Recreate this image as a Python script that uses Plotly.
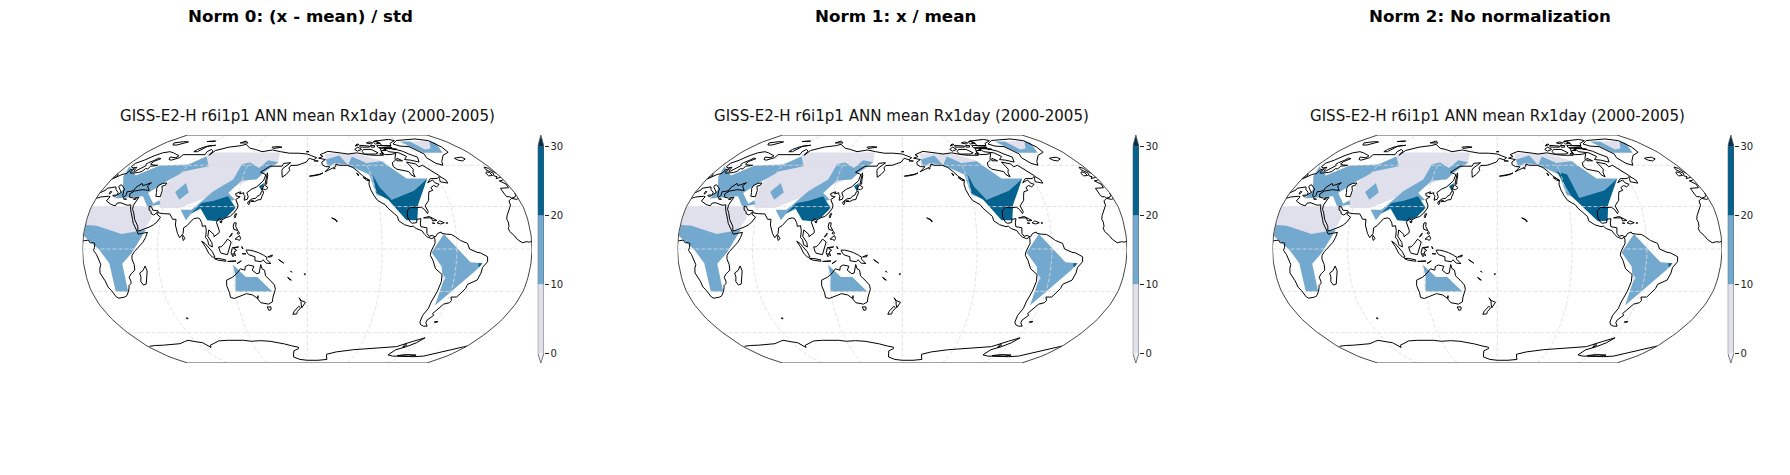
import numpy as np
import plotly.graph_objects as go

panel_titles = ['Norm 0: (x - mean) / std', 'Norm 1: x / mean', 'Norm 2: No normalization']
map_title = 'GISS-E2-H r6i1p1 ANN mean Rx1day (2000-2005)'
cbar_levels = [0, 10, 20, 30]
cbar_extend = [-1.45, 31.7]
lat_grid = [-60, -30, 0, 30, 60]
lon_grid = [60, 120, 180, 240, 300]

# robinson table
rob_lat = [0, 5, 10, 15, 20, 25, 30, 35, 40, 45, 50, 55, 60, 65, 70, 75, 80, 85, 90]
rob_x = [1, .9986, .9954, .99, .9822, .973, .96, .9427, .9216, .8962, .8679, .835, .7986, .7597, .7186, .6732, .6213, .5722, .5322]
rob_y = [0, .062, .124, .186, .248, .31, .372, .434, .4958, .5571, .6176, .6769, .7346, .7903, .8435, .8936, .9394, .9761, 1]

# shaded regions, (lon 0-360, lat)
light_areas = [
    [(0.2, 30), (50, 30), (52.5, 22), (48.5, 14), (30, 9), (0.2, 15)],
    [(53, 46.8), (60, 60.6), (71.3, 67), (69, 70.4), (149.4, 70.4), (150.4, 61.8), (125, 48), (74, 29), (57.6, 29), (54.6, 34.4)],
    [(199.6, 69.5), (232.8, 69.5), (245.5, 66.6), (262, 62.3), (222.5, 59.2), (199, 59.2)],
    [(313.7, 80.6), (340, 81), (324, 73.7), (316.6, 73)],
    [(289.6, -17.5), (293, -20.5), (291.5, -22.9)],
]
mid_areas = [
    [(0.5, 17), (9.2, 16.5), (30.5, 10.6), (49.6, 13.7), (39.3, -2.8), (31.1, -10.4), (30.5, -30.2), (20.2, -30.2), (20.7, -10), (13.4, -0.5), (0.2, 9.4)],
    [(8.2, 51.6), (3, 59.2), (19, 52.3), (32.4, 59.8), (60, 60.6), (71.3, 67), (82, 59.2), (62, 55.4), (52, 48), (42, 39.6),
     (50.6, 32), (54.6, 34.4), (57, 31.4), (49, 30), (46.5, 30), (39, 37.3), (16, 35.8), (18, 42)],
    [(150.2, 62.4), (139.3, 64), (135.6, 60.6), (132.4, 58), (121, 62.4), (114, 60.6), (112, 49.3), (98, 40.8), (90.6, 33.8), (84, 27.8),
     (75, 27.8), (81, 20.3), (84.7, 25.5), (93.6, 29), (118.6, 34.9), (111.5, 39.6), (120, 48.7), (133.4, 49.3), (138, 54)],
    [(65, 40.3), (70.3, 46.8), (77, 40), (71.3, 34.9)],
    [(120, -11), (130, -19.8), (139.3, -19.8), (151, -30.2), (120, -30.2), (121.6, -19.3)],
    [(290, 10.6), (311.3, -9.4), (321, -10), (317, -14.6), (291, -40), (291.5, -22.9), (293, -20.5), (289.6, -17.5), (288.4, -12.3), (279.6, -2.4)],
    [(199.6, 64.5), (214.8, 67.8), (220.7, 60.6), (208, 61.8), (200.8, 58.7)],
    [(221, 60), (227.9, 67), (240.5, 61.8), (256.9, 63.2), (271.7, 50), (290.7, 50), (273.6, 41.5), (251.6, 34.9), (239.7, 38.4), (238.5, 53)],
    [(300.7, 80.6), (313.7, 80.6), (316.6, 73), (324, 73.7), (340, 81), (343, 79), (330.9, 70), (309.3, 70), (304.5, 74)],
]
dark_areas = [
    [(84, 24.8), (91, 32.6), (101, 34.2), (112, 37.3), (120.5, 29), (114, 22.7), (107, 19.6), (98.4, 20.3), (91, 29)],
    [(137, 44.4), (141, 46.8), (140.4, 40.8)],
    [(317.5, -10), (321, -10), (318.6, -13)],
]
# the N America maximum reaches further north in the last panel
dark_namerica = [
    [(241.7, 53), (244, 44), (251.6, 34.9), (273.6, 41.5), (290.7, 50), (273, 31.4), (269.8, 20.3), (261, 20.3), (248.8, 34.9), (240, 39.6)],
    [(241.7, 53), (244, 44), (251.6, 34.9), (273.6, 41.5), (290.7, 50), (273, 31.4), (269.8, 20.3), (261, 20.3), (248.8, 34.9), (240, 39.6)],
    [(237, 55.4), (246, 53), (250, 36), (273.6, 41.5), (290.7, 50), (273, 31.4), (270, 20), (262, 19.6), (243.8, 37.3), (239, 49.3)],
]

# coastlines (lon, lat), read by eye
africa = [(-5.9, 35.8), (-9.3, 34), (-9.8, 31), (-13, 27.5), (-16, 23.5), (-17, 21), (-16.3, 19), (-16.5, 16), (-17.5, 14.7), (-16.7, 12.4), (-15, 11), (-13.5, 9.5),
          (-11.4, 6.9), (-7.6, 4.4), (-4, 5.2), (-2, 4.8), (1, 5.9), (4.3, 6.3), (6, 4.3), (8.5, 4.5), (9.7, 3.9), (9.5, 1), (8.8, -1), (11, -3.9), (12, -6), (13.4, -9),
          (13.7, -11), (12.5, -13.5), (11.8, -17), (14.4, -22.5), (15.2, -27), (17, -29.5), (18.4, -33.9), (20, -34.8), (25.6, -34), (28, -32.9), (31, -29.8), (32.6, -27),
          (32.8, -26), (35, -24.5), (35.5, -23), (34.8, -20), (37, -17.5), (40.5, -15), (40.6, -11), (39.2, -7), (39.5, -4.5), (41.5, -1.8), (45, 1.9), (48, 4.5), (50, 8),
          (51.2, 11.8), (48, 11.2), (44, 10.5), (43, 12), (41, 15), (38.5, 18.2), (37.3, 21), (35.6, 23.9), (34, 27), (32.7, 29.8), (32.3, 31.2), (29, 31), (25, 32),
          (23, 32.7), (20, 32.5), (19.5, 30.5), (15.5, 31.5), (11, 33.3), (10, 34), (11, 37), (9.5, 37.3), (3, 36.8), (-2, 35.1), (-5.9, 35.8)]
eurasia = [(-9, 37), (-9.5, 38.8), (-9.3, 43), (-1.8, 43.4), (-1.2, 46), (-4.6, 48.4), (-1.5, 48.7), (1.5, 50.2), (3.5, 51.4), (5, 53), (8.5, 53.8), (8.2, 56.5), (10.5, 57.5),
           (10.5, 54.5), (12, 54), (14, 54), (18.7, 54.5), (21, 55.3), (21.5, 57.5), (24, 57.2), (24, 59.3), (28, 59.6), (30, 60), (25, 60.2), (21.3, 61), (21.5, 63), (25.4, 65.2),
           (22.3, 65.7), (21, 64), (17.5, 62), (17, 60.7), (18.8, 59.8), (16.5, 57), (14.5, 55.5), (13, 55.4), (11.5, 58.5), (8.5, 58), (5.5, 58.8), (5, 61.5), (10, 64), (14, 67.5),
           (19, 70), (25, 71), (31, 70), (41, 67.5), (40, 66), (33, 66.5), (35, 64.5), (38, 64), (44, 66), (44, 68.5), (54, 68.5), (60, 69), (68, 68.5), (67, 71), (69, 73), (73, 71.5),
           (73, 68), (75, 72), (80, 73.5), (87, 75), (100, 76.5), (104, 77.7), (113, 74), (120, 73), (129, 71), (140, 72.5), (150, 71), (160, 69.7), (170, 69.7), (180, 69), (-175, 67.5),
           (-170, 66), (-173, 64.3), (-178, 65.5), (179, 62.5), (170, 60), (163.5, 59.8), (162, 58), (163, 56), (160, 53), (156.7, 51), (155.5, 56), (156, 57.5), (163, 62), (156, 61.5),
           (155, 59.3), (143, 59.3), (135.3, 54.7), (141, 53), (140, 48.4), (135, 44), (130.8, 42.3), (127.5, 39.8), (129.4, 37), (129, 35.2), (126.4, 34.5), (126.5, 37.7), (125, 38.6),
           (125, 39.8), (121.5, 39), (122, 40.5), (118, 39.2), (119, 37.5), (122.5, 37), (119.3, 35), (122, 31), (122, 29), (119.5, 25.5), (116.5, 23), (113.5, 22.2), (110, 20.5),
           (108, 21.6), (106, 19), (109, 13), (109, 11.5), (105, 8.7), (104.8, 10.3), (100.5, 13.5), (100, 9), (103.5, 4.5), (104, 1.4), (101, 3), (100, 6.5), (98.3, 8), (98.5, 13),
           (97.5, 16.5), (95, 16), (94.2, 18.5), (92, 21.5), (90, 22), (87, 21.4), (82.5, 16.5), (80, 15), (80, 11), (77.5, 8), (75.5, 11), (73, 17), (72.8, 21), (70, 21), (69, 22.5),
           (67, 24.8), (61.5, 25), (57, 25.6), (56.5, 27), (52, 27.5), (50, 30), (48, 30), (49, 27.5), (51, 26.5), (51.5, 25), (54, 24), (56.3, 26), (56.5, 24.5), (59.8, 22.5), (57.5, 19),
           (55, 17), (52, 15.5), (45, 13), (43.3, 12.8), (42.7, 16), (39, 21), (36.7, 26), (35, 28), (34.5, 31), (36, 35), (36, 36.7), (32, 36), (28, 36.6), (26.5, 39), (29, 41), (35, 42),
           (41.5, 41.5), (37.5, 44.7), (39, 47), (35, 45.5), (33, 45), (31, 46.5), (28, 43.5), (28, 41.5), (26, 40.8), (23, 40.5), (24, 38), (22.8, 36.5), (21.5, 37.5), (19.5, 41), (19, 42.5),
           (13.6, 45.5), (12.3, 45), (12.5, 44), (16, 41.5), (18.4, 40), (16.6, 38.5), (16, 38), (15.7, 40), (12, 42), (10, 44), (7, 43.7), (3.2, 43), (3.3, 41.8), (0, 39.7), (-0.5, 38),
           (-2, 36.8), (-5.5, 36), (-6.5, 37), (-9, 37)]
americas = [(-156.6, 71.3), (-166, 68.5), (-163, 67), (-168, 65.6), (-161, 64.5), (-165, 62.5), (-165, 60.5), (-162, 59), (-157.5, 58.8), (-163, 55), (-153, 58.5), (-151.5, 59.3), (-151, 61),
            (-148, 60), (-140, 60), (-135, 58.3), (-131, 55), (-128, 52), (-124.5, 49.5), (-123, 49), (-124.5, 46), (-124.2, 42), (-122.5, 37.7), (-120.5, 34.5), (-117, 32.5), (-114.8, 31.5),
            (-113, 29), (-109.5, 26), (-106, 23), (-105.5, 20), (-101, 17.2), (-96, 15.8), (-94, 16.2), (-92, 14.5), (-87.5, 13), (-85.7, 10.5), (-83.5, 8.5), (-80, 7.3), (-78, 8.3), (-77.5, 7),
            (-77.5, 4), (-79, 1.5), (-80.9, -2), (-81.3, -4.5), (-79, -8), (-76.3, -14), (-70.4, -18), (-70, -23), (-71.5, -30), (-73.5, -37.5), (-73.5, -42), (-75.5, -47), (-74.5, -52), (-72, -54),
            (-68.5, -55), (-65, -55), (-68.5, -52.5), (-69, -50.5), (-65.5, -47), (-67.5, -45.8), (-65, -43), (-62, -39), (-57.5, -38), (-56.7, -36.4), (-58.4, -34), (-53.5, -34), (-48.7, -28), (-48, -25),
            (-41, -22), (-39, -17), (-38.5, -13), (-35, -9), (-35.3, -5.5), (-41, -2.8), (-44, -2.3), (-50, 0), (-51.5, 4), (-57, 6), (-61, 8.7), (-64, 10.3), (-68, 10.5), (-71.5, 11), (-72, 12),
            (-75, 11), (-77, 8.5), (-79.5, 9.6), (-82, 9), (-83.6, 11), (-83.2, 15), (-88, 15.8), (-88, 18.5), (-87, 21.5), (-90.4, 21), (-91, 18.7), (-94.5, 18.2), (-96, 19), (-97.8, 22.5), (-97.2, 27),
            (-94, 29.5), (-90, 29.2), (-85, 29.6), (-82.7, 28), (-81, 25), (-80, 26.5), (-81.5, 30.5), (-77, 34.5), (-76, 37), (-74, 40.5), (-70, 41.5), (-70.5, 43.5), (-67, 45), (-65, 44), (-61.5, 45.8),
            (-64.5, 47), (-65, 49), (-71, 47), (-66.5, 50), (-60, 50), (-56, 52), (-60, 55.5), (-64.5, 60), (-69.5, 58.8), (-70, 61), (-78, 62.5), (-76.5, 57), (-79, 54.5), (-79.5, 51.3), (-82, 52.8),
            (-82.5, 55.2), (-92.5, 57), (-94.5, 59), (-93, 62), (-88, 64), (-87, 65.5), (-82, 69.5), (-88, 68.7), (-95, 68.5), (-96, 72), (-97, 68), (-108, 68), (-115, 68.5), (-125, 70), (-135, 69),
            (-141, 69.7), (-156.6, 71.3)]
australia = [(114, -22), (113.5, -26), (115, -31), (115, -34.3), (118, -35), (124, -33), (129, -31.6), (134, -32.5), (137.8, -35), (138.5, -33), (138, -35.5), (140, -38), (144, -38.5), (146.5, -39),
             (150, -37.5), (151, -34), (153.5, -28.5), (153, -25.5), (149.5, -22), (146, -19), (145.5, -15), (143.5, -14), (142.5, -11), (141.5, -14), (141, -17), (139, -17.5), (135.5, -15), (137, -12.2),
             (132.5, -11.3), (130, -12.5), (129.5, -15), (126, -14), (122, -18), (119, -20), (114, -22)]
antarctica = [(2, -71), (10, -70.3), (20, -70), (30, -69.5), (40, -68.8), (48, -67), (53, -66), (60, -67.2), (66, -68), (70, -72), (72, -70), (78, -68.5), (85, -66.5), (95, -66), (101, -66), (112, -66),
              (120, -66.8), (130, -66.3), (140, -66.8), (146, -67.5), (155, -69), (163, -70.7), (170, -71.8), (170, -73), (164, -75), (163, -78), (162, -81), (170, -84), (180, -85), (195, -85), (207, -84),
              (204, -78.3), (215, -76), (234, -74), (256, -72.7), (270, -72.5), (281, -71.3), (294, -66.8), (303, -64), (299, -68), (292.6, -71.3), (284, -74), (282, -78.8), (290, -80), (300, -80.5), (319, -80.7),
              (330, -80), (340, -76.5), (351, -74), (359.9, -70.8)]
islands = [
    [(-73, 78), (-68, 76), (-58, 75.5), (-54, 71), (-51, 69), (-53, 66), (-49, 61.5), (-44, 60), (-41, 63), (-32, 68), (-22, 70.5), (-20, 75), (-19, 79.5), (-20, 81.5), (-33, 83.5), (-50, 82.5), (-62, 81.7), (-73, 78)],
    [(-80, 73.5), (-72, 71.5), (-68, 69), (-62, 66.5), (-65, 62.5), (-72, 64), (-78, 64.5), (-73, 67), (-78, 70), (-88, 71), (-90, 73.8), (-80, 73.5)],
    [(-117, 69), (-105, 69), (-101, 70), (-106, 73), (-115, 73), (-118, 71), (-117, 69)],
    [(-123, 71.5), (-117, 73), (-120, 75), (-125, 73), (-123, 71.5)],
    [(-90, 76.5), (-78, 76.5), (-76, 78.5), (-65, 81.5), (-70, 83), (-85, 82), (-92, 81), (-88, 78), (-90, 76.5)],
    [(-96, 74.5), (-80, 74.5), (-80, 75.8), (-95, 76.8), (-96, 74.5)],
    [(-117, 75), (-106, 75), (-105, 76), (-116, 76.7), (-117, 75)],
    [(-95, 78), (-88, 79), (-90, 81), (-95, 80), (-95, 78)],
    [(-95, 72), (-90, 72), (-92, 74), (-95, 74), (-95, 72)],
    [(-87, 63.5), (-81, 63.5), (-85, 65.5), (-87, 63.5)],
    [(-104, 75), (-100, 75), (-98, 76.5), (-103, 76.5), (-104, 75)],
    [(-100, 78), (-105, 79), (-100, 80), (-97, 79), (-100, 78)],
    [(-122, 76), (-116, 77.5), (-118, 78), (-122, 76)],
    [(-100, 69), (-96, 69), (-97, 70), (-100, 69)],
    [(-81, 73), (-76, 73), (-78, 73.7), (-81, 73)],
    [(-85, 73.8), (-80, 74), (-90, 74.3), (-85, 73.8)],
    [(-59, 47.7), (-53, 46.7), (-53, 49), (-56, 51.5), (-58, 50), (-59, 47.7)],
    [(-128, 50.7), (-125, 50), (-123.5, 48.5), (-125.5, 48.8), (-128, 50.7)],
    [(-133, 54), (-131.5, 53), (-132, 52), (-133, 54)],
    [(-154, 57.5), (-152.5, 58), (-153.5, 57), (-154, 57.5)],
    [(-178, 51.8), (-172, 52.5), (-168, 53.3), (-165, 54.2), (-168, 53), (-174, 52), (-178, 51.8)],
    [(-173, 63.5), (-168.5, 63.3), (-171, 63), (-173, 63.5)],
    [(-84.8, 22), (-80, 23), (-74.2, 20.2), (-77.7, 19.9), (-78.5, 22), (-82, 22.3), (-84.8, 22)],
    [(-74.4, 18.5), (-72, 19.9), (-68.5, 18.6), (-71.7, 17.7), (-74.4, 18.5)],
    [(-78.3, 18.4), (-76.3, 18.1), (-77, 17.8), (-78.3, 18.4)],
    [(-67.2, 18.4), (-65.7, 18.4), (-66.5, 18), (-67.2, 18.4)],
    [(-160, 22), (-158, 21.5), (-156.5, 20.8), (-155.5, 19.5), (-156, 19.2), (-157, 20.6), (-160, 22)],
    [(-61, -51.8), (-58, -51.5), (-58.5, -52.2), (-61, -52), (-61, -51.8)],
    [(69, -49), (70.5, -49), (70, -49.7), (69, -49)],
    [(49.3, -12), (50.4, -15.5), (47.5, -24.8), (45, -25.5), (43.5, -23), (44.4, -20), (44, -17), (47, -15.3), (49.3, -12)],
    [(145, -41), (148.3, -41), (148, -43), (146, -43.5), (145, -41)],
    [(173, -34.5), (175, -36.5), (178.5, -37.7), (177, -39.5), (175.2, -41.6), (174.7, -39), (174.7, -37), (173, -34.5)],
    [(172.7, -40.5), (174.2, -41.7), (171.2, -44.3), (170.5, -46), (167, -46.3), (168.5, -44), (172.7, -40.5)],
    [(131, -0.8), (134, -0.8), (138, -1.7), (141, -2.6), (145, -4.4), (147.7, -6), (147, -7), (150.8, -10.3), (147, -10), (144.5, -7.6), (143, -9), (138, -8.3), (138, -5.5), (133, -4), (132, -2.8), (131, -0.8)],
    [(148.3, -5.6), (152, -4.2), (151.5, -5.5), (148.3, -5.6)],
    [(157, -7.5), (161, -10), (160, -9.5), (157, -7.5)],
    [(166.5, -15.5), (167.5, -16.5), (166.8, -16), (166.5, -15.5)],
    [(164, -20), (167, -22), (165.5, -21.7), (164, -20)],
    [(177.3, -17.7), (178.7, -17.6), (178, -18.2), (177.3, -17.7)],
    [(109, 1.5), (111, 1.5), (113, 3.2), (116, 7), (119, 5), (117.8, 1), (116.5, -1.5), (116, -4), (111, -3), (110, -1.5), (109, 1.5)],
    [(95.3, 5.5), (98, 4), (104, -2), (106, -5.8), (104, -5.8), (101, -3), (98.5, 1.5), (95.3, 5.5)],
    [(105.5, -6.8), (108.5, -6.6), (114.5, -7.7), (114.5, -8.7), (108, -7.8), (105.5, -6.8)],
    [(120, 1), (125, 1.5), (121, 0.5), (123.5, -1), (121.5, -2), (122.5, -5), (120.5, -3), (120.5, -5.5), (119.5, -4), (119, -2.5), (120, 1)],
    [(123.5, -10.3), (127, -8.4), (125, -9), (123.5, -10.3)],
    [(116, -8.8), (122.8, -8.5), (119, -8.7), (116, -8.8)],
    [(127.5, 1.8), (128.5, 0), (127.8, 0.8), (127.5, 1.8)],
    [(127.8, -3.3), (130.8, -3.5), (128, -3.5), (127.8, -3.3)],
    [(120.5, 18.5), (122.2, 18.5), (122, 16), (124, 13), (120.7, 13.9), (120, 16), (120.5, 18.5)],
    [(122, 7), (125.5, 9.5), (126.5, 7.5), (125.5, 6), (124, 6.8), (122, 7)],
    [(124.5, 12.5), (125.5, 11), (125, 10.5), (123.5, 11), (124.5, 12.5)],
    [(117.3, 8.5), (119.5, 11.2), (119, 9.5), (117.3, 8.5)],
    [(121, 25), (121.9, 25), (120.8, 22), (120.2, 23), (121, 25)],
    [(108.7, 19.3), (110.6, 20), (110, 18.4), (108.7, 19.3)],
    [(80, 9.7), (81.8, 7.5), (80.5, 6), (79.8, 8), (80, 9.7)],
    [(130.9, 34), (133, 35.5), (136, 35.8), (137, 37.2), (139.5, 38.5), (140, 40.5), (141.3, 41.3), (142, 39.5), (141, 37), (140.6, 35), (138, 34.7), (135.5, 33.5), (132, 34), (130.9, 34)],
    [(140, 42), (141.5, 45.5), (145.3, 43.5), (143.5, 42), (141, 42.5), (140, 42)],
    [(130, 33.5), (131.7, 33.3), (131, 31.3), (130, 32), (130, 33.5)],
    [(132.5, 33.8), (134.7, 34), (134, 33.4), (132.5, 33.8)],
    [(142, 54.3), (143, 52), (143, 49), (143.5, 46), (142, 46), (142, 50), (142, 54.3)],
    [(-24, 65.5), (-21, 66), (-15, 66.4), (-13.5, 65), (-18.8, 63.4), (-22.5, 64), (-24, 65.5)],
    [(-5.7, 50), (1.4, 51.2), (1.7, 52.7), (-1, 54.5), (-2, 56), (-2, 57.6), (-5, 58.6), (-6.2, 56.7), (-3, 54), (-5, 52), (-3, 51.4), (-5.7, 50)],
    [(-6, 52.3), (-6, 54.5), (-8.2, 55), (-10, 54), (-10, 52), (-6, 52.3)],
    [(11, 79), (20, 80.3), (27, 80), (20, 77), (15, 77), (11, 79)],
    [(52, 71), (56, 71), (60, 76), (68, 76.8), (58, 75.5), (53, 73), (52, 71)],
    [(50, 80.4), (60, 81), (55, 80.2), (50, 80.4)],
    [(95, 79), (105, 79), (100, 81), (95, 79)],
    [(138, 75), (145, 75.5), (150, 75), (140, 73.8), (138, 75)],
    [(179, 71), (-178, 71), (179, 70.8), (179, 71)],
    [(8.3, 40.9), (9.7, 40.5), (9.3, 39), (8.5, 39), (8.3, 40.9)],
    [(12.5, 38), (15.6, 38.2), (15, 36.7), (12.5, 38)],
    [(23.5, 35.5), (26.3, 35.2), (24, 35), (23.5, 35.5)],
    [(32.5, 35), (34.5, 35.6), (33.5, 34.7), (32.5, 35)],
    [(47, 45), (49.5, 46.5), (53, 46.8), (53, 45), (50.5, 44.5), (53, 41.5), (54, 37), (50, 37.3), (49, 40), (47, 43), (47, 45)],
    [(295, -79.5), (312, -80), (318, -79), (305, -78.5), (295, -79.5)],
    [(288, -69), (291, -70), (289, -72), (288, -69)],
]
coasts = [africa, eurasia, americas, australia, antarctica] + islands

light_color = '#e0dfec'
mid_color = '#74a9cf'
dark_color = '#05628f'
grid_color = '#dcdcdc'
W, H = 1790, 475


def robinson(lon, lat):
    lon = np.asarray(lon, dtype=float)
    lat = np.asarray(lat, dtype=float)
    xf = np.interp(np.abs(lat), rob_lat, rob_x)
    yf = np.sign(lat) * np.interp(np.abs(lat), rob_lat, rob_y)
    return xf * (lon - 180) / 180, yf


def coast_xy(points):
    # central longitude is 180, so the seam sits at lon 0
    xs, ys = [], []
    prev = None
    for lon, lat in points:
        lon = lon % 360
        if prev is not None and abs(lon - prev[0]) > 180:
            if prev[0] < lon:
                ends = (0, 360)
            else:
                ends = (360, 0)
            span = abs(lon - prev[0])
            lat_mid = prev[1] + (lat - prev[1]) * min(prev[0], 360 - prev[0]) / (360 - span)
            x, y = robinson([ends[0], ends[1]], [lat_mid, lat_mid])
            xs += [x[0], None, x[1]]
            ys += [y[0], None, y[1]]
        x, y = robinson(lon, lat)
        xs.append(float(x))
        ys.append(float(y))
        prev = (lon, lat)
    return xs, ys


def px_x(v):
    return v / W


def px_y(v):
    return 1 - v / H


fig = go.Figure()
layout = {}
sweep = np.arange(-90, 90.5, 2.5)
lon_sweep = np.arange(0, 361, 5)

for i in range(3):
    off = 595 * i
    ax = 2 * i + 1
    cb = 2 * i + 2
    xa = dict(xaxis=f'x{ax}', yaxis=f'y{ax}')
    xc = dict(xaxis=f'x{cb}', yaxis=f'y{cb}')

    layout[f'xaxis{ax}'] = dict(domain=[px_x(82.5 + off), px_x(532 + off)], range=[-1, 1], visible=False, fixedrange=True)
    layout[f'yaxis{ax}'] = dict(domain=[px_y(363), px_y(135)], range=[-1, 1], visible=False, fixedrange=True)
    layout[f'xaxis{cb}'] = dict(domain=[px_x(537.7 + off), px_x(544 + off)], range=[0, 1], visible=False, fixedrange=True)
    layout[f'yaxis{cb}'] = dict(domain=[px_y(363), px_y(135)], range=cbar_extend, anchor=f'x{cb}', side='right',
                                tickvals=cbar_levels, ticks='outside', ticklen=3.5, tickwidth=0.8, tickcolor='#222222',
                                tickfont=dict(family='DejaVu Sans', size=10, color='#222222'),
                                showgrid=False, zeroline=False, showline=False, fixedrange=True)

    for areas, color in [(light_areas, light_color), (mid_areas, mid_color),
                         (dark_areas + [dark_namerica[i]], dark_color)]:
        for area in areas:
            lon, lat = zip(*area)
            x, y = robinson(lon, lat)
            fig.add_trace(go.Scatter(x=x, y=y, mode='lines', fill='toself', fillcolor=color,
                                     line=dict(width=0), hoverinfo='skip', **xa))

    for la in lat_grid:
        x, y = robinson(lon_sweep, np.full(lon_sweep.shape, la))
        fig.add_trace(go.Scatter(x=x, y=y, mode='lines', line=dict(color=grid_color, width=0.8, dash='4px,2px'), hoverinfo='skip', **xa))
    for lo in lon_grid:
        x, y = robinson(np.full(sweep.shape, lo), sweep)
        fig.add_trace(go.Scatter(x=x, y=y, mode='lines', line=dict(color=grid_color, width=0.8, dash='4px,2px'), hoverinfo='skip', **xa))

    for coast in coasts:
        x, y = coast_xy(coast)
        fig.add_trace(go.Scatter(x=x, y=y, mode='lines', line=dict(color='black', width=1), hoverinfo='skip', **xa))

    # map outline
    x = np.r_[robinson(np.zeros(sweep.shape), sweep)[0], robinson(np.full(sweep.shape, 360), sweep[::-1])[0]]
    y = np.r_[robinson(np.zeros(sweep.shape), sweep)[1], robinson(np.full(sweep.shape, 360), sweep[::-1])[1]]
    fig.add_trace(go.Scatter(x=np.r_[x, x[0]], y=np.r_[y, y[0]], mode='lines', cliponaxis=False,
                             line=dict(color='#444444', width=1), hoverinfo='skip', **xa))

    # colorbar
    fig.add_trace(go.Bar(x=[0.5, 0.5, 0.5], y=np.diff(cbar_levels), base=cbar_levels[:-1], width=1,
                         marker=dict(color=[light_color, mid_color, dark_color], line=dict(width=0)), hoverinfo='skip', **xc))
    fig.add_trace(go.Scatter(x=[0, 0.5, 1, 0], y=[cbar_levels[-1], cbar_extend[1], cbar_levels[-1], cbar_levels[-1]], mode='lines', fill='toself',
                             fillcolor='#03304f', line=dict(width=0), hoverinfo='skip', **xc))
    fig.add_trace(go.Scatter(x=[0, 0.5, 1, 0], y=[cbar_levels[0], cbar_extend[0], cbar_levels[0], cbar_levels[0]], mode='lines', fill='toself',
                             fillcolor='#f1eef6', line=dict(width=0), hoverinfo='skip', **xc))
    fig.add_trace(go.Scatter(x=[0, 0, 0.5, 1, 1, 0.5, 0], y=[cbar_levels[0], cbar_levels[-1], cbar_extend[1], cbar_levels[-1], cbar_levels[0], cbar_extend[0], cbar_levels[0]],
                             mode='lines', cliponaxis=False, line=dict(color='#555555', width=0.8), hoverinfo='skip', **xc))

annotations = []
for i, txt in enumerate(panel_titles):
    annotations.append(dict(text=f'<b>{txt}</b>', x=px_x(300 + 595 * i), y=px_y(16.2), xref='paper', yref='paper',
                            xanchor='center', yanchor='middle', showarrow=False,
                            font=dict(family='DejaVu Sans', size=16.7, color='black')))
    annotations.append(dict(text=map_title, x=px_x(307 + 595 * i), y=px_y(116), xref='paper', yref='paper',
                            xanchor='center', yanchor='middle', showarrow=False,
                            font=dict(family='DejaVu Sans', size=15.05, color='#111111')))

fig.update_layout(width=W, height=H, margin=dict(l=0, r=0, t=0, b=0), showlegend=False,
                  paper_bgcolor='white', plot_bgcolor='white', annotations=annotations, **layout)
# drop the default 8px page margin so the figure fills the window
fig.write_html("out.html", config={'displayModeBar': False}, post_script="document.body.style.margin='0';")
